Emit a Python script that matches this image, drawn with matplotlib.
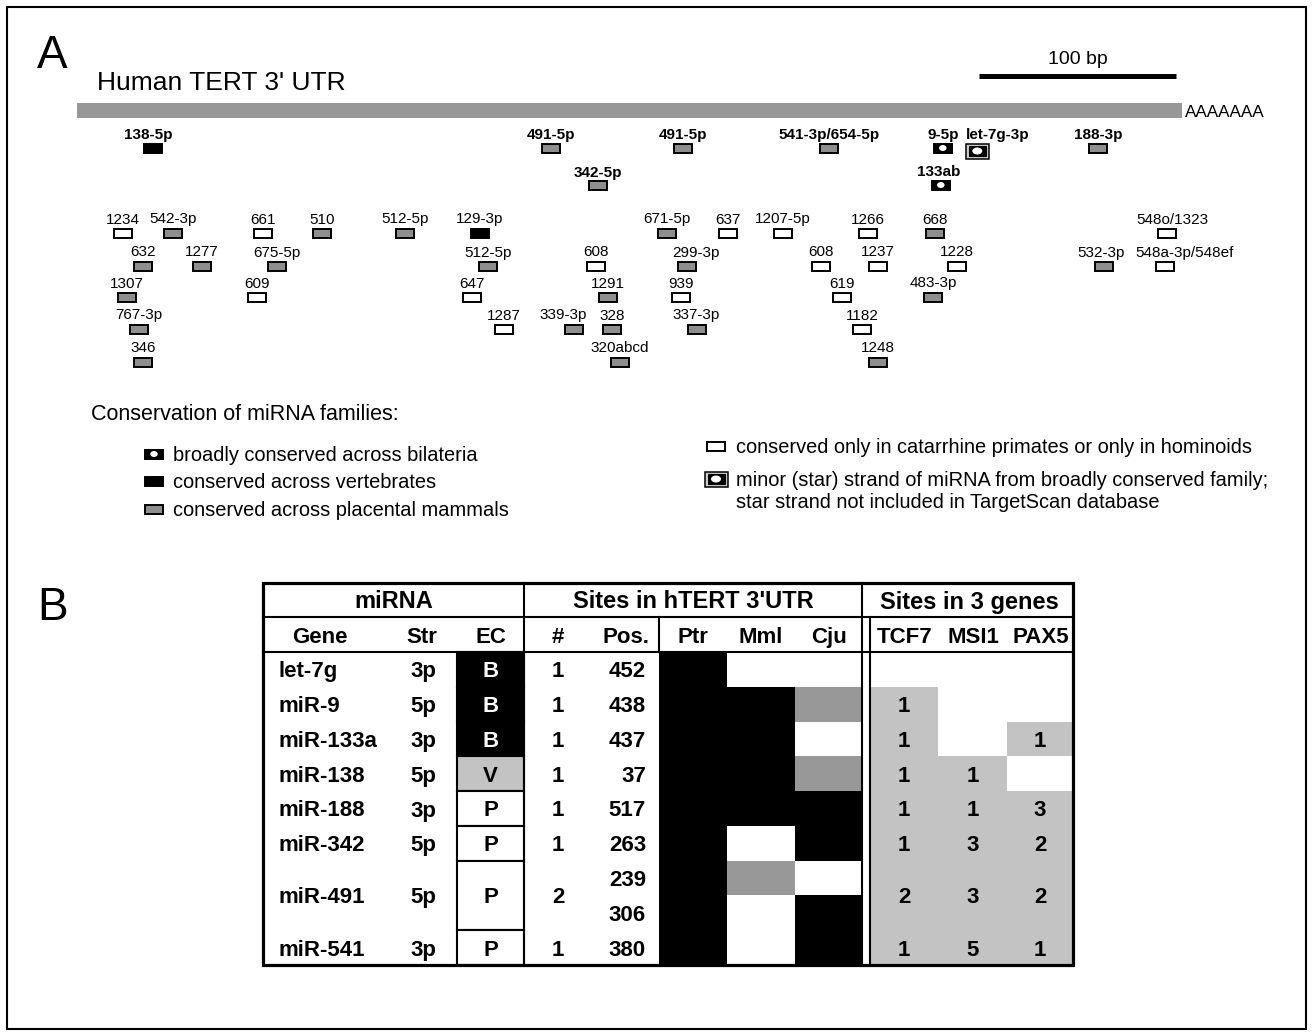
import matplotlib
matplotlib.use("Agg")
import matplotlib.pyplot as plt
from matplotlib.patches import Rectangle, Ellipse

plt.rcParams['font.family'] = ['Liberation Sans', 'DejaVu Sans']

# ---------------- Panel A: miRNA sites in the human TERT 3' UTR ----------------
UTR_LEN = 561          # bp
SCALE_BP = 100
SCALE_START = 458

# sites of the miRNAs analysed in panel B (bold on the map)
bold_names = ['138-5p', '491-5p', '342-5p', '491-5p', '541-3p/654-5p',
              '9-5p', 'let-7g-3p', '133ab', '188-3p']
bold_pos = [37, 239, 263, 306, 380, 438, 452, 437, 517]
bold_class = ['vert', 'mam', 'mam', 'mam', 'mam', 'bil', 'star', 'bil', 'mam']

# remaining predicted sites
other_names = ['1234', '542-3p', '632', '1277', '1307', '767-3p', '346',
               '661', '510', '675-5p', '609', '512-5p', '129-3p', '512-5p',
               '647', '1287', '339-3p', '328', '320abcd', '608', '1291',
               '671-5p', '637', '299-3p', '939', '337-3p', '1207-5p', '608',
               '619', '1266', '1237', '1182', '1248', '668', '1228', '483-3p',
               '548o/1323', '532-3p', '548a-3p/548ef']
other_pos = [22, 47, 32, 62, 24, 30, 32,
             93, 123, 100, 90, 165, 203, 207,
             199, 215, 251, 270, 274, 262, 268,
             298, 329, 308, 305, 313, 357, 376,
             387, 400, 405, 397, 405, 434, 445, 433,
             552, 520, 551]
other_class = ['prim', 'mam', 'mam', 'mam', 'mam', 'mam', 'mam',
               'prim', 'mam', 'mam', 'prim', 'mam', 'vert', 'mam',
               'prim', 'prim', 'mam', 'mam', 'mam', 'prim', 'mam',
               'mam', 'prim', 'mam', 'prim', 'mam', 'prim', 'prim',
               'prim', 'prim', 'prim', 'prim', 'mam', 'mam', 'prim', 'mam',
               'prim', 'mam', 'prim']

legend_left = [('bil', ['broadly conserved across bilateria']),
               ('vert', ['conserved across vertebrates']),
               ('mam', ['conserved across placental mammals'])]
legend_right = [('prim', ['conserved only in catarrhine primates or only in hominoids']),
                ('star', ['minor (star) strand of miRNA from broadly conserved family;',
                          'star strand not included in TargetScan database'])]

# ---------------- Panel B: table ----------------
mirnas = ['let-7g', 'miR-9', 'miR-133a', 'miR-138', 'miR-188', 'miR-342',
          'miR-491', 'miR-541']
strands = ['3p', '5p', '3p', '5p', '3p', '5p', '5p', '3p']
ec_class = ['B', 'B', 'B', 'V', 'P', 'P', 'P', 'P']
n_sites = [1, 1, 1, 1, 1, 1, 2, 1]
site_positions = [[452], [438], [437], [37], [517], [263], [239, 306], [380]]
# per site: 2 = conserved, 1 = partially conserved, 0 = not conserved
ptr = [2, 2, 2, 2, 2, 2, 2, 2, 2]
mml = [0, 2, 2, 2, 2, 0, 1, 0, 0]
cju = [0, 1, 0, 1, 2, 2, 0, 2, 2]
gene_cols = ['TCF7', 'MSI1', 'PAX5']
tcf7 = [0, 1, 1, 1, 1, 1, 2, 1]
msi1 = [0, 0, 0, 1, 1, 3, 3, 5]
pax5 = [0, 0, 1, 0, 3, 2, 2, 1]

# ---------------- drawing ----------------
W, H = 1313, 1035
fig = plt.figure(figsize=(W / 100, H / 100), dpi=100)
ax = fig.add_axes([0, 0, 1, 1])
ax.set_xlim(0, W)
ax.set_ylim(H, 0)
ax.axis('off')

PX_PER_BP = 1.97
X0 = 77
tr = fig.add_axes([0, 0, 1, 1], facecolor='none')
tr.set_xlim(-X0 / PX_PER_BP, (W - X0) / PX_PER_BP)
tr.set_ylim(H, 0)
tr.axis('off')

BLACK = 'black'
MAM_GRAY = '#8e8e8e'


def symbol(a, cx, cy, kind, sx):
    """Draw a site symbol centred at (cx, cy); sx = x data units per pixel."""
    lw = 1.4
    if kind == 'star':
        a.add_patch(Rectangle((cx - 11.5 * sx, cy - 7.5), 23 * sx, 15,
                              facecolor='#cfcfcf', edgecolor=BLACK, lw=1.1, zorder=3))
        a.add_patch(Rectangle((cx - 8.5 * sx, cy - 5), 17 * sx, 10,
                              facecolor=BLACK, edgecolor=BLACK, lw=0.8, zorder=4))
        a.add_patch(Ellipse((cx, cy), 10 * sx, 7, facecolor='white',
                            edgecolor='none', zorder=5))
        return
    face = {'bil': BLACK, 'vert': BLACK, 'mam': MAM_GRAY, 'prim': 'white'}[kind]
    a.add_patch(Rectangle((cx - 9 * sx, cy - 4.5), 18 * sx, 9,
                          facecolor=face, edgecolor=BLACK, lw=lw, zorder=3))
    if kind == 'bil':
        a.add_patch(Ellipse((cx, cy), 7.5 * sx, 6, facecolor='white',
                            edgecolor='none', zorder=4))


# figure frame
ax.add_patch(Rectangle((7, 7), W - 14, H - 13, fill=False, edgecolor=BLACK, lw=1.5))

# panel letters and title
ax.text(37, 68, 'A', fontsize=33, va='baseline', ha='left')
ax.text(37, 620, 'B', fontsize=33, va='baseline', ha='left')
ax.text(97, 90, "Human TERT 3' UTR", fontsize=19, va='baseline', ha='left')

# UTR bar, scale bar, poly-A tail
tr.add_patch(Rectangle((0, 103), UTR_LEN, 14.5, facecolor='#979797', edgecolor='none'))
tr.text(UTR_LEN + 1.5, 117, 'AAAAAAA', fontsize=12.3, va='baseline', ha='left')
tr.plot([SCALE_START, SCALE_START + SCALE_BP], [75.5, 75.5], color=BLACK, lw=3.6,
        solid_capstyle='butt')
tr.text(SCALE_START + SCALE_BP / 2, 64, '100 bp', fontsize=14, ha='center', va='baseline')

SX = 1 / PX_PER_BP
SITE_CENTER = 1.5     # box centre relative to site start (bp)
bold_tier = [0, 0, 1, 0, 0, 0, 0, 1, 0]
bold_tier_y = [148, 185]
bold_dy = [0, 0, 0, 0, 0, 0, 3, 0, 0]
bold_nudge_bp = [0, 0, 0, 0, 0, 0, 3.5, 0, 0]
bold_label_dx = [-5, 0, 0, 0, 0, 0, 20, -2, 0]
for name, pos, cls, t, dy, nb, dx in zip(bold_names, bold_pos, bold_class, bold_tier,
                                         bold_dy, bold_nudge_bp, bold_label_dx):
    cx = pos + SITE_CENTER + nb
    y = bold_tier_y[t]
    symbol(tr, cx, y + dy, cls, SX)
    tr.text(cx + dx * SX, y - 8.5, name, fontsize=11, fontweight='bold',
            ha='center', va='baseline')

tier_y = [233, 266, 297, 329, 362]
other_tier = [0, 0, 1, 1, 2, 3, 4,
              0, 0, 1, 2, 0, 0, 1,
              2, 3, 3, 3, 4, 1, 2,
              0, 0, 1, 2, 3, 0, 1,
              2, 0, 1, 3, 4, 0, 1, 2,
              0, 1, 1]
other_label_dx = {'299-3p': 9, '339-3p': -11, '548a-3p/548ef': 19,
                  '548o/1323': 5, '532-3p': -3}
for name, pos, cls, t in zip(other_names, other_pos, other_class, other_tier):
    cx = pos + SITE_CENTER
    y = tier_y[t]
    symbol(tr, cx, y, cls, SX)
    dx = other_label_dx.get(name, 0)
    tr.text(cx + dx * SX, y - 9.5, name, fontsize=11, ha='center', va='baseline')

# legend
ax.text(91, 420, 'Conservation of miRNA families:', fontsize=15.5, va='baseline')
for (kind, lines), y in zip(legend_left, [454, 481, 509]):
    symbol(ax, 154, y, kind, 1)
    for j, line in enumerate(lines):
        ax.text(173, y + 7 + 21 * j, line, fontsize=14.4, va='baseline')
for (kind, lines), y in zip(legend_right, [446, 479]):
    symbol(ax, 716, y, kind, 1)
    for j, line in enumerate(lines):
        ax.text(736, y + 7 + 21.5 * j, line, fontsize=14.4, va='baseline')

# ---------------- table ----------------
TL, TR_, TT, TB = 263, 1073, 583, 965
H1, H2 = 617, 652
ROW_H = (TB - H2) / 9.0
C_EC0, C_EC1 = 457, 524
C_PTR0, C_MML0, C_CJU0, C_CJU1 = 659, 727, 795, 862
C_G0 = 870
gene_x = [870, 938, 1007, 1073]
LGRAY = '#c3c3c3'
MGRAY = '#989898'
cons_color = {2: BLACK, 1: MGRAY, 0: 'white'}
FS = 16

# sub-row index of each miRNA
starts = []
k = 0
for n in n_sites:
    starts.append(k)
    k += n


def row_top(i):
    return H2 + ROW_H * i


# conservation cells (one per site)
for col_x0, col_x1, vals in [(C_PTR0, C_MML0, ptr), (C_MML0, C_CJU0, mml),
                             (C_CJU0, C_CJU1, cju)]:
    for i, v in enumerate(vals):
        ax.add_patch(Rectangle((col_x0, row_top(i)), col_x1 - col_x0, ROW_H,
                               facecolor=cons_color[v], edgecolor='none', zorder=1))

# site counts in the three genes
for gi, counts in enumerate([tcf7, msi1, pax5]):
    x0, x1 = gene_x[gi], gene_x[gi + 1]
    for r, c in enumerate(counts):
        top = row_top(starts[r])
        h = ROW_H * n_sites[r]
        if c > 0:
            ax.add_patch(Rectangle((x0, top), x1 - x0, h, facecolor=LGRAY,
                                   edgecolor='none', zorder=1))
            ax.text((x0 + x1) / 2, top + h / 2 + 8, str(c), fontsize=FS,
                    fontweight='bold', ha='center', va='baseline', zorder=3)

# miRNA rows
for r, (g, s, ec, n, poss) in enumerate(zip(mirnas, strands, ec_class, n_sites,
                                             site_positions)):
    top = row_top(starts[r])
    h = ROW_H * n
    yc = top + h / 2 + 8
    ax.text(279, yc, g, fontsize=FS, fontweight='bold', ha='left', va='baseline')
    ax.text(423, yc, s, fontsize=FS, fontweight='bold', ha='center', va='baseline')
    face = {'B': BLACK, 'V': LGRAY, 'P': 'white'}[ec]
    ax.add_patch(Rectangle((C_EC0, top), C_EC1 - C_EC0, h, facecolor=face,
                           edgecolor=BLACK, lw=1.5, zorder=2))
    ax.text((C_EC0 + C_EC1) / 2, yc, ec, fontsize=FS, fontweight='bold',
            color='white' if ec == 'B' else BLACK, ha='center', va='baseline', zorder=3)
    ax.text(558, yc, str(n), fontsize=FS, fontweight='bold', ha='center', va='baseline')
    for j, p in enumerate(poss):
        ax.text(646, row_top(starts[r] + j) + ROW_H / 2 + 8, str(p), fontsize=FS,
                fontweight='bold', ha='right', va='baseline')

# headers
ax.text((TL + C_EC1) / 2, 608.5, 'miRNA', fontsize=17, fontweight='bold', ha='center',
        va='baseline')
ax.text((C_EC1 + C_CJU1) / 2, 608.5, "Sites in hTERT 3'UTR", fontsize=17,
        fontweight='bold', ha='center', va='baseline')
ax.text(969, 608.5, 'Sites in 3 genes', fontsize=17, fontweight='bold', ha='center',
        va='baseline')
sub_headers = [('Gene', 320), ('Str', 422), ('EC', 491), ('#', 558), ('Pos.', 626),
               ('Ptr', 693), ('Mml', 761), ('Cju', 829)]
for txt, x in sub_headers:
    ax.text(x, 643, txt, fontsize=FS, fontweight='bold', ha='center', va='baseline')
for gi, txt in enumerate(gene_cols):
    ax.text((gene_x[gi] + gene_x[gi + 1]) / 2 + 1, 643, txt, fontsize=FS,
            fontweight='bold', ha='center', va='baseline')

# grid lines
LW = 1.5
ax.plot([TL, TR_], [H1, H1], color=BLACK, lw=LW, zorder=4)
ax.plot([TL, TR_], [H2, H2], color=BLACK, lw=LW, zorder=4)
ax.plot([C_EC1, C_EC1], [TT, TB], color=BLACK, lw=LW, zorder=4)
ax.plot([C_CJU1, C_CJU1], [TT, TB], color=BLACK, lw=LW, zorder=4)
ax.plot([C_G0, C_G0], [H1, TB], color=BLACK, lw=LW, zorder=4)
ax.plot([C_PTR0, C_PTR0], [H1, H2], color=BLACK, lw=LW, zorder=4)
ax.add_patch(Rectangle((TL, TT), TR_ - TL, TB - TT, fill=False, edgecolor=BLACK,
                       lw=2.3, zorder=5))

fig.savefig('out.png', dpi=100)
